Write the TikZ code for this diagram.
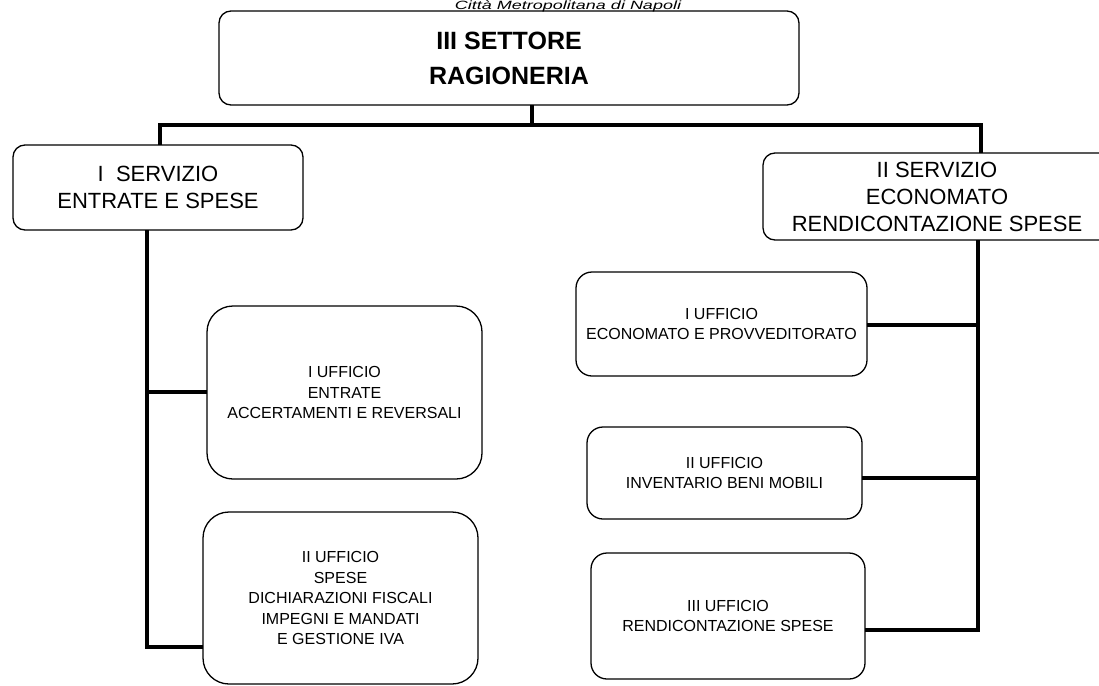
\documentclass[tikz,border=0pt]{standalone}
\usepackage{fontspec}
\setmainfont{Liberation Sans}
\begin{document}
\begin{tikzpicture}[x=1pt,y=-1pt,
  box/.style={draw, line width=1.3pt, rounded corners=#1, align=center,
              inner sep=0pt, outer sep=0pt},
  box/.default=10pt,
  settorefont/.style={font=\fontsize{25}{35}\selectfont\bfseries},
  serviziofont/.style={font=\fontsize{22}{27}\selectfont},
  ufficiofont/.style={font=\fontsize{16}{20.5}\selectfont},
  conn/.style={line width=3.2pt, line join=miter}]
\useasboundingbox (0,0) rectangle (1099,685);

% heading of the page, above the sector box
\node[font=\fontsize{12}{12}\selectfont\itshape, anchor=base, inner sep=0pt] (ente) at (568,9.2) {\scalebox{1.5}[1]{Città Metropolitana di Napoli}};

% sector
\node[box=12pt, settorefont, minimum width=580pt, minimum height=94pt] (settore) at (509,58) {III SETTORE\\RAGIONERIA};

% services
\node[box=12pt, serviziofont, minimum width=290pt, minimum height=85pt] (serv1) at (158,187.5) {I\ \ SERVIZIO\\ENTRATE E SPESE};
\node[box=12pt, serviziofont, minimum width=348pt, minimum height=87pt] (serv2) at (937,196.5) {II SERVIZIO\\ECONOMATO\\RENDICONTAZIONE SPESE};

% offices of the first service
\node[box=26pt, ufficiofont, minimum width=275pt, minimum height=173pt] (uff1) at (344.5,392.5) {I UFFICIO\\ENTRATE\\ACCERTAMENTI E REVERSALI};
\node[box=26pt, ufficiofont, minimum width=275pt, minimum height=172pt] (uff2) at (340.5,598) {II UFFICIO\\SPESE\\DICHIARAZIONI FISCALI\\IMPEGNI E MANDATI\\E GESTIONE IVA};

% offices of the second service
\node[box=16pt, ufficiofont, minimum width=291pt, minimum height=104pt] (uff3) at (721.5,324) {I UFFICIO\\ECONOMATO E PROVVEDITORATO};
\node[box=16pt, ufficiofont, minimum width=275pt, minimum height=92pt] (uff4) at (724.5,473) {II UFFICIO\\INVENTARIO BENI MOBILI};
\node[box=16pt, ufficiofont, minimum width=274pt, minimum height=126pt] (uff5) at (728,616) {III UFFICIO\\RENDICONTAZIONE SPESE};

% connection points
\coordinate (stem) at (532,125);
\coordinate (busL) at (160,125);
\coordinate (busR) at (981,125);
\coordinate (tl) at (147,392);
\coordinate (bl) at (147,647);
\coordinate (r1) at (978,325);
\coordinate (r2) at (978,478);
\coordinate (r3) at (978,630);

% sector to services
\draw[conn] (settore.south -| stem) -- (stem);
\draw[conn] (serv1.north -| busL) -- (busL) -- (busR) -- (serv2.north -| busR);

% first service to its offices
\draw[conn] (serv1.south -| tl) -- (bl) -- (uff2.west |- bl);
\draw[conn] (tl) -- (uff1.west |- tl);

% second service to its offices
\draw[conn] (serv2.south -| r3) -- (r3) -- (uff5.east |- r3);
\draw[conn] (r1) -- (uff3.east |- r1);
\draw[conn] (r2) -- (uff4.east |- r2);
\end{tikzpicture}
\end{document}
